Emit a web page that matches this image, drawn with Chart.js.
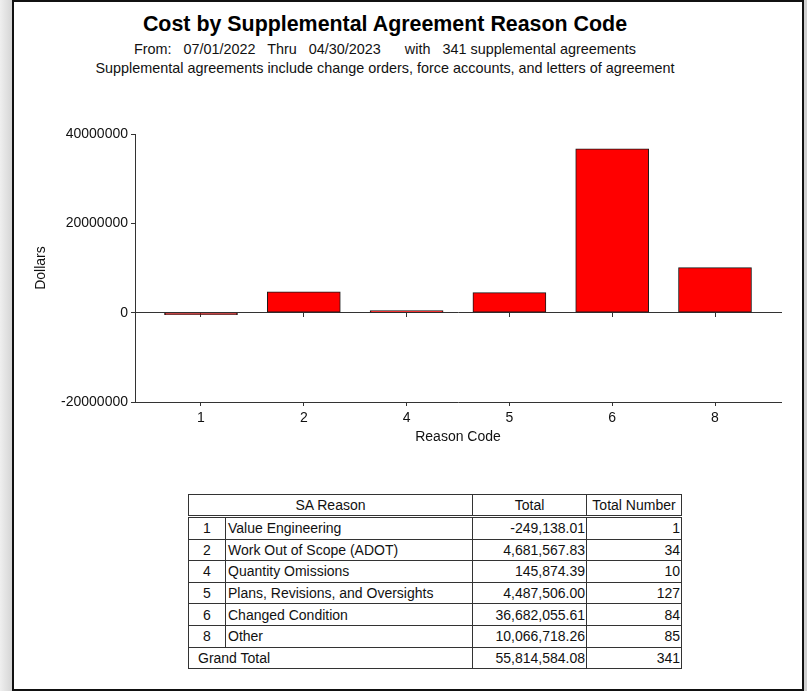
<!DOCTYPE html>
<html>
<head>
<meta charset="utf-8">
<script src="https://cdn.jsdelivr.net/npm/chart.js@4.4.0/dist/chart.umd.min.js"></script>
<style>
  html, body { margin:0; padding:0; }
  body { width:807px; height:691px; position:relative; overflow:hidden;
         background:linear-gradient(90deg,#efefef,#d5d5d5 12px,#d5d5d5 795px,#cfcfcf);
         font-family:"Liberation Sans", Arial, sans-serif; color:#111; }
  #panel { position:absolute; left:12px; top:0; width:792px; height:691px;
           box-sizing:border-box; border:2px solid #111; background:#fff; }
  .txt { position:absolute; left:0; width:770px; text-align:center; white-space:pre; }
  #titulo { top:13.5px; font-size:21.4px; line-height:21.4px; font-weight:bold; color:#000; }
  #sub1 { top:42px; font-size:14.4px; line-height:14.4px; }
  #sub2 { top:61px; font-size:14.4px; line-height:14.4px; }
  #grafica { position:absolute; left:0; top:0; }
  #tabla { position:absolute; left:188px; top:494px; width:493px; border-collapse:collapse;
           table-layout:fixed; font-size:14px; color:#111; }
  #tabla td, #tabla th { border:1px solid #333; padding:0 2px; height:20px; line-height:16px;
           font-weight:normal; white-space:nowrap; overflow:hidden; }
  #tabla td { height:20.6px; }
  #tabla th { border-bottom:3px double #333; }
  #tabla .num { text-align:center; }
  #tabla .der { text-align:right; padding-right:1px; }
</style>
</head>
<body>
<div id="panel"></div>
<div id="titulo" class="txt">Cost by Supplemental Agreement Reason Code</div>
<div id="sub1" class="txt">From:   07/01/2022   Thru   04/30/2023      with   341 supplemental agreements</div>
<div id="sub2" class="txt">Supplemental agreements include change orders, force accounts, and letters of agreement</div>
<canvas id="grafica" width="807" height="460"></canvas>
<table id="tabla">
  <colgroup><col style="width:37px"><col style="width:247px"><col style="width:114px"><col style="width:95px"></colgroup>
  <thead><tr><th colspan="2">SA Reason</th><th>Total</th><th>Total Number</th></tr></thead>
  <tbody id="tabla-cuerpo"></tbody>
</table>
<script>
const codigos  = ["1", "2", "4", "5", "6", "8"];
const motivos  = ["Value Engineering", "Work Out of Scope (ADOT)", "Quantity Omissions",
                  "Plans, Revisions, and Oversights", "Changed Condition", "Other"];
const totales  = [-249138.01, 4681567.83, 145874.39, 4487506.00, 36682055.61, 10066718.26];
const cantidad = [1, 34, 10, 127, 84, 85];
const ticksY   = [-20000000, 0, 20000000, 40000000];

const fmt = new Intl.NumberFormat("en-US", { minimumFractionDigits:2, maximumFractionDigits:2 });

// tabla
const cuerpo = document.getElementById("tabla-cuerpo");
cuerpo.innerHTML = codigos.map((c, i) => `
  <tr><td class="num">${c}</td><td>${motivos[i]}</td>
  <td class="der">${fmt.format(totales[i])}</td><td class="der">${cantidad[i]}</td></tr>`).join("") +
  `<tr><td colspan="2" style="padding-left:9px;">Grand Total</td>
   <td class="der">${fmt.format(totales.reduce((s,v)=>s+v,0))}</td>
   <td class="der">${cantidad.reduce((s,v)=>s+v,0)}</td></tr>`;

// grafica
const posX = s => { s.ticks = codigos.map((c, i) => ({ value:i })); };
const fuente = { family:"Liberation Sans", size:14 };

new Chart(document.getElementById("grafica"), {
  type: "bar",
  data: {
    datasets: [{
      data: totales.map((v, i) => ({ x:i, y:v })),
      backgroundColor: "#ff0000",
      borderColor: "#1a1a1a",
      borderWidth: 1,
      borderSkipped: false,
      barThickness: 73,
      minBarLength: 2
    }]
  },
  options: {
    responsive: false,
    animation: false,
    layout: { padding: { top:134, left:33, right:26, bottom:14 } },
    plugins: { legend: { display:false }, tooltip: { enabled:false } },
    scales: {
      x: {
        type: "linear", min: -0.642, max: 5.642, offset: false,
        afterBuildTicks: posX,
        afterFit: s => { s.height = 44; },
        grid: { offset:false, drawOnChartArea:false, tickLength:4, color:"#333" },
        border: { display:true, color:"#333" },
        ticks: { color:"#111", font:fuente, padding:4, callback: (v) => codigos[v] ?? "" },
        title: { display:true, text:"Reason Code", color:"#111", font:fuente, padding:0 }
      },
      x2: {
        type: "linear", axis: "x", position: { y:0 }, min: -0.642, max: 5.642, offset: false,
        afterBuildTicks: posX,
        grid: { offset:false, drawOnChartArea:false, tickLength:4, color:"#333" },
        border: { display:true, color:"#333" },
        ticks: { display:false }
      },
      y: {
        min: -20000000, max: 40000000,
        afterBuildTicks: s => { s.ticks = ticksY.map(v => ({ value:v })); },
        afterFit: s => { s.width = 102; },
        grid: { drawOnChartArea:false, tickLength:4, color:"#333" },
        border: { display:true, color:"#333" },
        ticks: { color:"#111", font:fuente, padding:3, callback: v => String(v) },
        title: { display:true, text:"Dollars", color:"#111", font:fuente, padding:0 }
      }
    }
  }
});
</script>
</body>
</html>
